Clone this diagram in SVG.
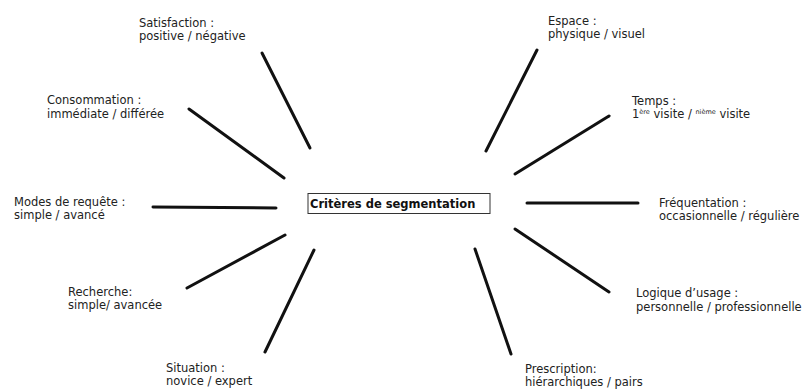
<svg xmlns="http://www.w3.org/2000/svg" width="807" height="389" viewBox="0 0 807 389">
<style>
text{font-family:"DejaVu Sans","Liberation Sans",sans-serif;font-size:11.5px;fill:#222}
.c{font-weight:bold;font-size:11.5px;fill:#111}
.l{stroke:#111;stroke-width:3;stroke-linecap:round;fill:none}
.sup{font-size:6.5px}
</style>
<rect width="807" height="389" fill="#fff"/>
<g id="connectors">
<line class="l" x1="262" y1="53" x2="310" y2="148"/>
<line class="l" x1="189" y1="109" x2="284" y2="178"/>
<line class="l" x1="153" y1="207" x2="276" y2="208"/>
<line class="l" x1="187" y1="288" x2="285" y2="235"/>
<line class="l" x1="265" y1="352" x2="314" y2="250"/>
<line class="l" x1="537" y1="50" x2="486" y2="151"/>
<line class="l" x1="609" y1="116" x2="515" y2="174"/>
<line class="l" x1="527" y1="203" x2="638" y2="203"/>
<line class="l" x1="515" y1="229" x2="609" y2="292"/>
<line class="l" x1="475" y1="249" x2="511" y2="354"/>
</g>
<g id="center">
<rect x="308" y="193.5" width="182" height="20" fill="#fff" stroke="#333" stroke-width="1"/>
<text class="c" x="310" y="208">Critères de segmentation</text>
</g>
<g id="satisfaction"><text x="139" y="27">Satisfaction :</text><text x="139" y="40">positive / négative</text></g>
<g id="consommation"><text x="47" y="104">Consommation :</text><text x="47" y="118">immédiate / différée</text></g>
<g id="modes"><text x="14" y="206">Modes de requête :</text><text x="14" y="219">simple / avancé</text></g>
<g id="recherche"><text x="68" y="296">Recherche:</text><text x="68" y="309">simple/ avancée</text></g>
<g id="situation"><text x="166" y="372">Situation :</text><text x="166" y="385">novice / expert</text></g>
<g id="espace"><text x="548" y="25">Espace :</text><text x="548" y="38">physique / visuel</text></g>
<g id="temps"><text x="632" y="105">Temps :</text><text x="632" y="118">1<tspan class="sup" dy="-4">ère</tspan><tspan dy="4"> visite / </tspan><tspan class="sup" dy="-4">nième</tspan><tspan dy="4"> visite</tspan></text></g>
<g id="frequentation"><text x="659" y="207">Fréquentation :</text><text x="659" y="220">occasionnelle / régulière</text></g>
<g id="logique"><text x="636" y="297">Logique d’usage :</text><text x="636" y="311">personnelle / professionnelle</text></g>
<g id="prescription"><text x="525" y="373">Prescription:</text><text x="525" y="386">hiérarchiques / pairs</text></g>
</svg>
